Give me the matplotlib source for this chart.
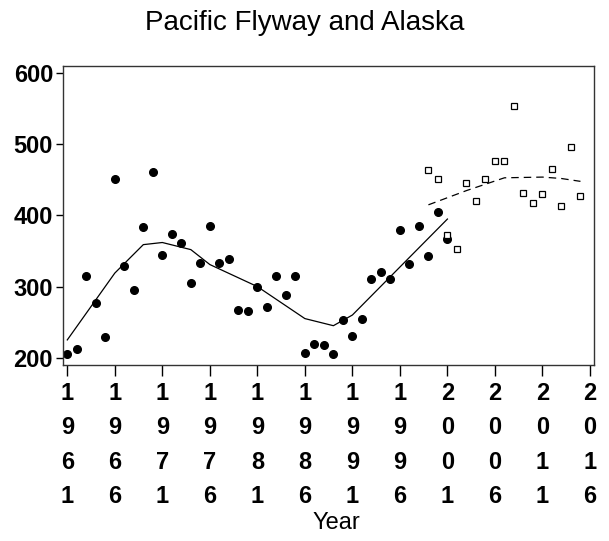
import matplotlib
matplotlib.use('Agg')
import matplotlib.pyplot as plt

# Early survey (filled circles)
years_a = list(range(1961, 2002))
counts_a = [205, 212, 315, 277, 229, 451, 329, 295, 384, 461,
            345, 374, 362, 305, 333, 385, 333, 339, 267, 266,
            300, 271, 315, 288, 315, 207, 219, 218, 205, 253,
            230, 254, 311, 320, 310, 379, 332, 385, 343, 405,
            367]

# Later survey (open squares)
years_b = list(range(1999, 2016))
counts_b = [464, 452, 372, 353, 446, 420, 452, 477, 477, 554,
            431, 418, 430, 465, 413, 497, 428]

# Smoothed trends
trend_a_years = [1961, 1966, 1969, 1971, 1974, 1976, 1981, 1986, 1989, 1991, 2001]
trend_a_vals = [225, 319, 359, 362, 352, 331, 300, 255, 245, 260, 395]
trend_b_years = [1999, 2003, 2007, 2011, 2013, 2015]
trend_b_vals = [415, 435, 453, 454, 452, 448]

xticks = [1961, 1966, 1971, 1976, 1981, 1986, 1991, 1996, 2001, 2006, 2011, 2016]
yticks = [200, 300, 400, 500, 600]

font = ['Liberation Sans Narrow', 'Liberation Sans', 'DejaVu Sans']
plt.rcParams['font.family'] = font

fig = plt.figure(figsize=(6.09, 5.41), dpi=100)
ax = fig.add_axes([0.103, 0.3253, 0.8723, 0.5533])

ax.plot(trend_a_years, trend_a_vals, color='black', linewidth=0.9)
ax.plot(trend_b_years, trend_b_vals, color='black', linewidth=0.9,
        linestyle=(0, (6, 4)))
ax.plot(years_a, counts_a, 'o', color='black', markersize=5.5)
ax.plot(years_b, counts_b, 's', markerfacecolor='white', markeredgecolor='black',
        markersize=4.6, markeredgewidth=0.9)

ax.set_xlim(1960.52, 2016.42)
ax.set_ylim(189.7, 610.7)
ax.set_xticks(xticks)
ax.set_xticklabels(['\n'.join(str(y)) for y in xticks], linespacing=1.64)
ax.set_yticks(yticks)
ax.tick_params(axis='x', length=8, width=1, labelsize=17, pad=4)
ax.tick_params(axis='y', length=5, width=1, labelsize=17, pad=2)
for lbl in ax.get_xticklabels() + ax.get_yticklabels():
    lbl.set_fontweight('bold')
for s in ax.spines.values():
    s.set_linewidth(1)
    s.set_color('#333333')

fig.text(0.5, 0.957, 'Pacific Flyway and Alaska', ha='center', va='center',
         fontsize=20)
fig.text(0.552, 0.033, 'Year', ha='center', va='center', fontsize=17)

fig.savefig('out.png', dpi=100)
